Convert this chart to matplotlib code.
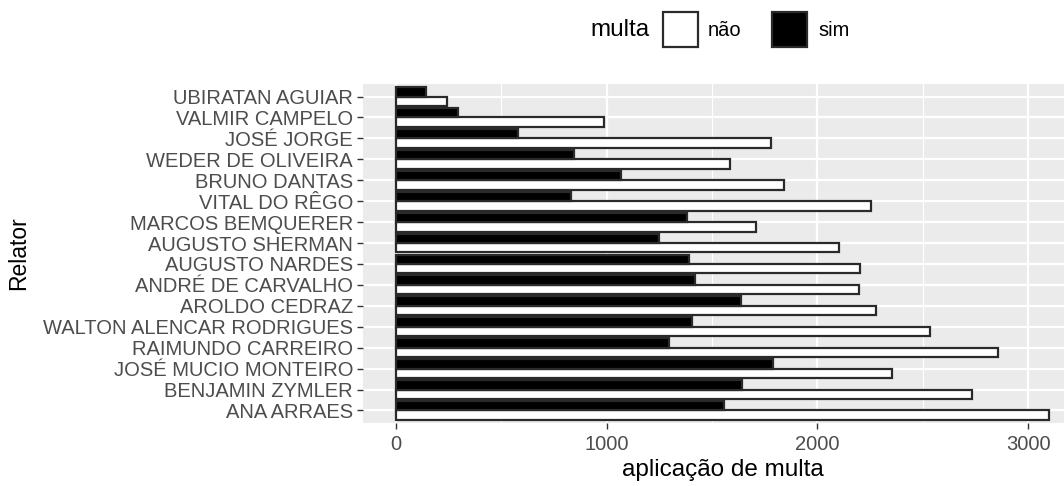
import matplotlib
matplotlib.use("Agg")
import matplotlib.pyplot as plt
from matplotlib.patches import Rectangle
import numpy as np

plt.rcParams['font.family'] = ['Liberation Sans', 'DejaVu Sans']

relatores = ["UBIRATAN AGUIAR", "VALMIR CAMPELO", "JOSÉ JORGE", "WEDER DE OLIVEIRA",
             "BRUNO DANTAS", "VITAL DO RÊGO", "MARCOS BEMQUERER", "AUGUSTO SHERMAN",
             "AUGUSTO NARDES", "ANDRÉ DE CARVALHO", "AROLDO CEDRAZ",
             "WALTON ALENCAR RODRIGUES", "RAIMUNDO CARREIRO", "JOSÉ MUCIO MONTEIRO",
             "BENJAMIN ZYMLER", "ANA ARRAES"]
sim = [145, 296, 581, 848, 1068, 831, 1383, 1250, 1391, 1420, 1636, 1406, 1296, 1791, 1642, 1555]
nao = [245, 987, 1781, 1584, 1843, 2252, 1708, 2102, 2204, 2198, 2276, 2536, 2857, 2353, 2733, 3100]
x_ticks = [0, 1000, 2000, 3000]
legend_labels = ["não", "sim"]

W, H = 1064, 486
fig = plt.figure(figsize=(W / 100, H / 100), dpi=100)
left, right, top, bottom = 363, 1082, 84, 423
ax = fig.add_axes([left / W, 1 - bottom / H, (right - left) / W, (bottom - top) / H])

ax.set_facecolor("#EBEBEB")
n = len(relatores)
pos = np.arange(n, 0, -1)  # first at top
bw = 0.45
ax.barh(pos - bw / 2, nao, height=bw, color="white", edgecolor="#2a2a2a", linewidth=1.6, zorder=3)
ax.barh(pos + bw / 2, sim, height=bw, color="black", edgecolor="#2a2a2a", linewidth=1.6, zorder=3)

vmax = max(max(sim), max(nao))
ax.set_xlim(-0.05 * vmax, 1.05 * vmax)
ax.set_ylim(0.4, n + 0.6)

ax.set_xticks(x_ticks)
ax.set_xticks([500, 1500, 2500], minor=True)
ax.set_yticks(pos)
ax.set_yticklabels(relatores)
ax.grid(which="major", color="white", linewidth=1.6, zorder=1)
ax.grid(which="minor", axis="x", color="white", linewidth=0.8, zorder=1)
ax.set_axisbelow(True)
for s in ax.spines.values():
    s.set_visible(False)
ax.tick_params(axis="both", which="major", length=4, width=1.0, color="#333333",
               labelcolor="#4D4D4D", labelsize=14.5, pad=3.2)
ax.tick_params(axis="x", which="major", pad=4.5)
ax.tick_params(axis="both", which="minor", length=0)

ax.set_xlabel("aplicação de multa", fontsize=17.5, labelpad=4)
ax.set_ylabel("Relator", fontsize=16.5, labelpad=9)

# legend
ty = 1 - 30 / H
fig.text(590 / W, ty, "multa", fontsize=17.5, ha="left", va="center")
kh = 35
fig.patches.append(Rectangle((663 / W, 1 - 47 / H), 35 / W, kh / H, transform=fig.transFigure,
                             facecolor="white", edgecolor="#2a2a2a", linewidth=1.6))
fig.text(708 / W, ty, legend_labels[0], fontsize=14.5, ha="left", va="center")
fig.patches.append(Rectangle((772 / W, 1 - 47 / H), 35 / W, kh / H, transform=fig.transFigure,
                             facecolor="black", edgecolor="#2a2a2a", linewidth=1.6))
fig.text(818 / W, ty, legend_labels[1], fontsize=14.5, ha="left", va="center")

fig.savefig("out.png", dpi=100)
